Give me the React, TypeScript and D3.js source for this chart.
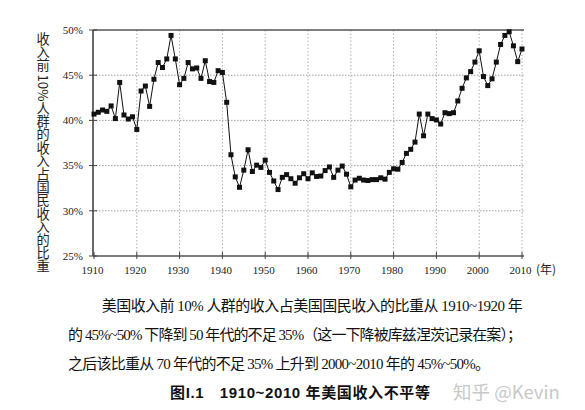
import React from "react";
import * as d3 from "d3";

const firstYear = 1910;
const shares = [
  40.7, 40.9, 41.15, 41.0, 41.6, 40.2, 44.2, 40.6, 40.15, 40.4,
  39.0, 43.25, 43.8, 41.55, 44.55, 46.4, 45.85, 46.8, 49.4, 46.8,
  43.95, 44.65, 46.4, 45.7, 45.8, 44.65, 46.6, 44.3, 44.2, 45.5,
  45.3, 42.0, 36.2, 33.75, 32.6, 34.5, 36.75, 34.35, 35.05, 34.8,
  35.6, 34.25, 33.3, 32.35, 33.7, 34.0, 33.55, 33.05, 33.65, 34.1,
  33.55, 34.2, 33.8, 33.85, 34.45, 34.85, 33.7, 34.5, 34.95, 34.05,
  32.65, 33.4, 33.6, 33.4, 33.35, 33.45, 33.45, 33.65, 33.5, 34.25,
  34.65, 34.6, 35.35, 36.35, 36.8, 37.6, 40.7, 38.3, 40.7, 40.2,
  40.05, 39.6, 40.85, 40.75, 40.85, 42.15, 43.55, 44.7, 45.4, 46.45,
  47.7, 44.85, 43.85, 44.6, 46.45, 48.4, 49.4, 49.8, 48.25, 46.5,
  47.9,
];
const xTicks = [1910, 1920, 1930, 1940, 1950, 1960, 1970, 1980, 1990, 2000, 2010];
const yTicks = [25, 30, 35, 40, 45, 50];
const yTitle = "收入前 10%人群的收入占国民收入的比重";
const xUnit = "(年)";
const captionLines = [
  "美国收入前 10% 人群的收入占美国国民收入的比重从 1910~1920 年",
  "的 45%~50% 下降到 50 年代的不足 35%（这一下降被库兹涅茨记录在案）；",
  "之后该比重从 70 年代的不足 35% 上升到 2000~2010 年的 45%~50%。",
];
const figTitle = "图I.1　1910~2010 年美国收入不平等";
const watermark = "知乎 @Kevin";

const data = shares.map((v, i) => ({ year: firstYear + i, v }));

export default function App() {
  const left = 93, right = 524, top = 30, bottom = 256;
  const x = d3.scaleLinear().domain([1910, 2010]).range([94, 522]);
  const y = d3.scaleLinear().domain([25, 50]).range([bottom, top]);
  const line = d3.line<{ year: number; v: number }>().x(d => x(d.year)).y(d => y(d.v));
  const serif = "'Liberation Serif', 'Noto Sans CJK SC', serif";
  const cjk = "'Noto Sans CJK SC', sans-serif";
  const capX = [101.7, 68, 68];
  const capW = [421, 454, 422];
  const capY = [311, 339.5, 368.5];
  return (
    <svg width={585} height={410} style={{ position: "absolute", left: 0, top: 0, background: "#fff" }}>
      <rect x={0} y={0} width={585} height={410} fill="#fff" />
      {/* grid */}
      {yTicks.filter(t => t > 25 && t < 50).map(t => (
        <line key={"gy" + t} x1={left} x2={right} y1={y(t)} y2={y(t)} stroke="#888" strokeWidth={0.8} strokeDasharray="1.5,1.5" />
      ))}
      {xTicks.filter(t => t > 1910).map(t => (
        <line key={"gx" + t} x1={x(t)} x2={x(t)} y1={top} y2={bottom} stroke="#999" strokeWidth={0.8} strokeDasharray="1.5,2" />
      ))}
      {/* frame */}
      <line x1={left} x2={right} y1={top} y2={top} stroke="#555" strokeWidth={1.3} />
      <line x1={left} x2={left} y1={top} y2={bottom} stroke="#444" strokeWidth={1.6} />
      <line x1={left} x2={right} y1={bottom} y2={bottom} stroke="#555" strokeWidth={1.3} />
      {/* ticks */}
      {yTicks.map(t => (
        <g key={"yt" + t}>
          <line x1={left - 4} x2={left + 4} y1={y(t)} y2={y(t)} stroke="#444" strokeWidth={1} />
          <text x={83} y={y(t)} dy="0.35em" textAnchor="end" fontFamily={serif} fontSize={11} fill="#222">{t}%</text>
        </g>
      ))}
      {xTicks.map(t => (
        <g key={"xt" + t}>
          <line x1={x(t)} x2={x(t)} y1={bottom - 4} y2={bottom + 3} stroke="#444" strokeWidth={1} />
          <text x={x(t) - 1.5} y={274} textAnchor="middle" fontFamily={serif} fontSize={11} fill="#222">{t}</text>
        </g>
      ))}
      <text x={536} y={274} fontFamily={cjk} fontSize={12} fill="#222">{xUnit}</text>
      {/* y title */}
      <text x={43} y={32} fontFamily={cjk} fontSize={13.2} fill="#222" style={{ writingMode: "vertical-rl" as any, whiteSpace: "pre" }}>{yTitle}</text>
      {/* series */}
      <path d={line(data) || ""} fill="none" stroke="#111" strokeWidth={1} />
      {data.map(d => (
        <rect key={d.year} x={x(d.year) - 2.5} y={y(d.v) - 2.5} width={5} height={5} fill="#111" />
      ))}
      {/* caption */}
      {captionLines.map((s, i) => (
        <text key={i} x={capX[i]} y={capY[i]} fontFamily={serif} fontSize={15} fill="#111" textLength={capW[i]} lengthAdjust="spacing" style={{ whiteSpace: "pre" }}>{s}</text>
      ))}
      <text x={170} y={397.5} fontFamily={"'Liberation Sans', 'Noto Sans CJK SC', sans-serif"} fontWeight="bold" fontSize={15} fill="#111" textLength={260} lengthAdjust="spacing" style={{ whiteSpace: "pre" }}>{figTitle}</text>
      <text x={453} y={398.5} fontFamily={cjk} fontSize={18.5} fill="#c8c8c8">{watermark}</text>
    </svg>
  );
}
